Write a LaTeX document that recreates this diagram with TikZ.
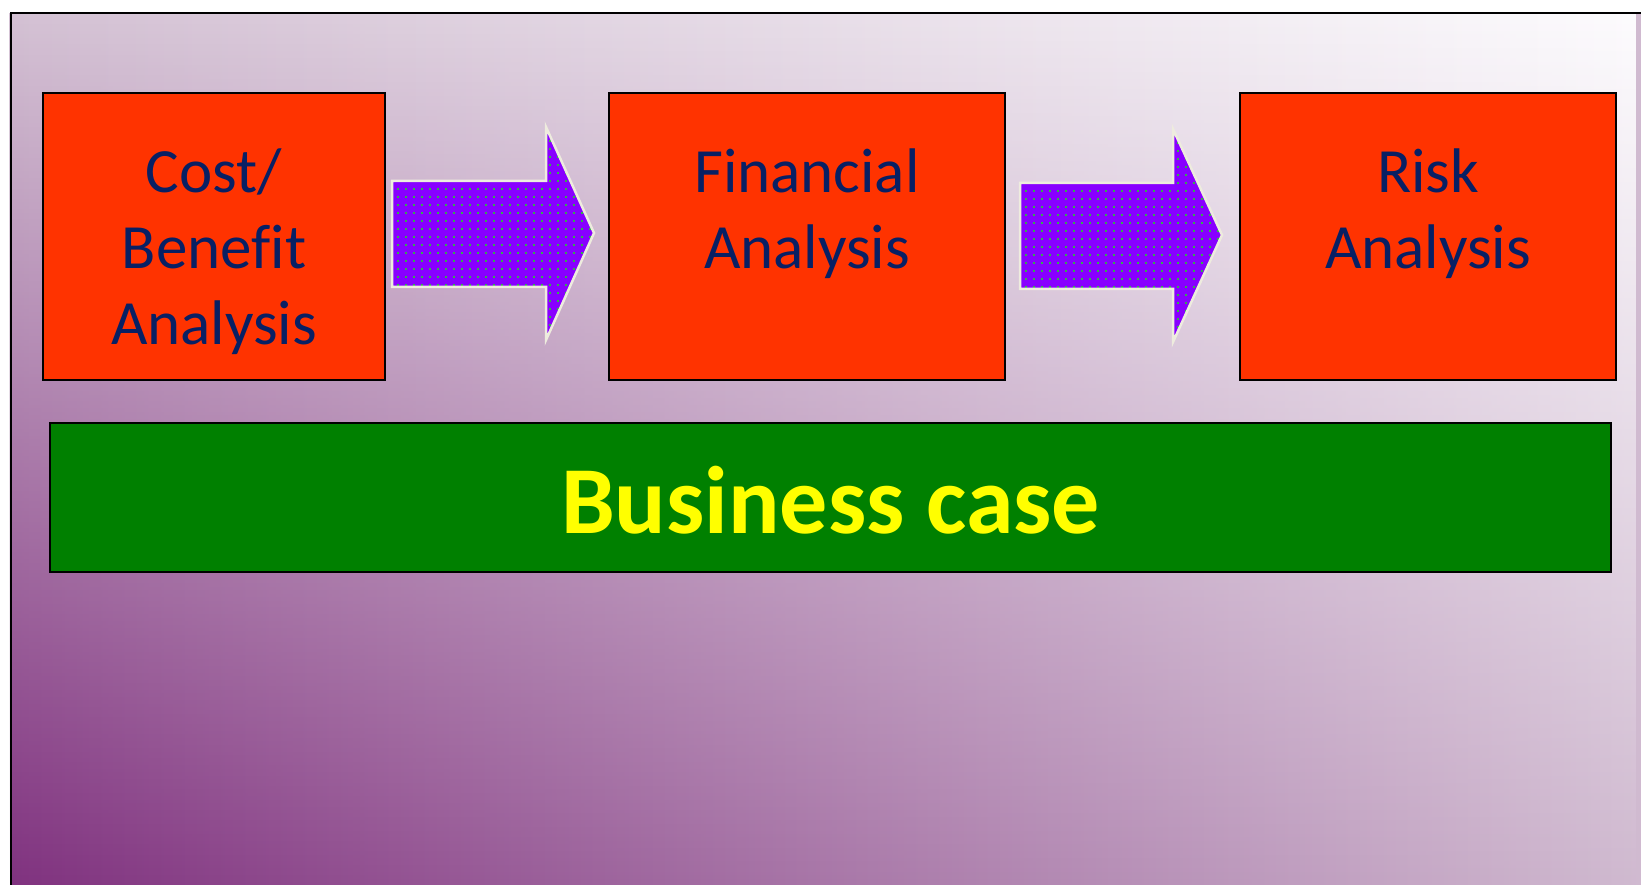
\documentclass[tikz,border=0pt]{standalone}
\usepackage{fontspec}
\setmainfont{Carlito}[Ligatures=NoCommon]
\usetikzlibrary{calc,fadings}
\definecolor{boxred}{RGB}{255,51,0}
\definecolor{navytxt}{RGB}{8,32,100}
\definecolor{bizgreen}{RGB}{0,128,0}
\definecolor{bizyellow}{RGB}{255,255,0}
\definecolor{arrowviolet}{RGB}{136,0,255}
\definecolor{dotgreen}{RGB}{50,175,75}
\definecolor{cream}{RGB}{238,236,222}
\definecolor{bgTL}{RGB}{212,194,212}
\definecolor{bgTR}{RGB}{253,252,254}
\definecolor{bgBL}{RGB}{128,50,127}
\definecolor{bgBR}{RGB}{208,186,208}
\newcommand\blockshape[3]{(#1) -- ++(0,-52) -- ++(#2,0) -- ++(0,-54) -- ++(#3,106)
  -- ++(-#3,107) -- ++(0,-53) -- ++(-#2,0) -- cycle}
\begin{document}
\begin{tikzpicture}[x=1pt,y=-1pt,
  stage/.style={draw=black, line width=2.5pt, fill=boxred, minimum width=#1,
    minimum height=287pt, inner sep=0pt, outer sep=0pt},
  lbl/.style={anchor=north, align=center, inner sep=0pt, text=navytxt,
    font=\fontsize{63}{76}\selectfont},
  bcase/.style={draw=black, line width=2.5pt, fill=bizgreen, minimum width=1561pt,
    minimum height=149pt, inner sep=0pt, outer sep=0pt, text=bizyellow,
    font=\fontsize{96}{115}\selectfont\bfseries, text height=71pt, text depth=0pt},
  arrowbody/.style={fill=arrowviolet},
  arrowdot/.style={fill=dotgreen},
  arrowline/.style={draw=cream, line width=2.5pt, line join=miter},
  frameline/.style={draw=black, line width=2pt}]
\useasboundingbox (0,0) rectangle (1641,885);
% background
\fill[white] (0,0) rectangle (1641,885);
\shade[left color=bgBL, right color=bgBR] (11,13) rectangle (1641,885);
\shade[left color=bgTL, right color=bgTR, path fading=south] (11,13) rectangle (1641,885);
\draw[frameline] (11,885) -- (11,13) -- (1641,13);
% stages
\node[stage=342pt] (b1) at (214,236.5) {};
\node[stage=396pt] (b2) at (807,236.5) {};
\node[stage=376pt] (b3) at (1428,236.5) {};
\node[lbl] (l1) at (214,142.5) {\rule{0pt}{50pt}Cost/\\Benefit\\Analysis};
\node[lbl] (l2) at (807,142) {\rule{0pt}{50pt}Financial\\Analysis};
\node[lbl] (l3) at (1428,142) {\rule{0pt}{50pt}Risk\\Analysis};
% block arrows
\coordinate (a1) at ($(b1.east)+(7,-3.5)$);
\coordinate (a2) at ($(b2.east)+(15,-1.5)$);
\foreach \s/\w/\h in {a1/154/48, a2/153/49}{
  \path[arrowbody] \blockshape{\s}{\w}{\h};
  \begin{scope}
    \clip \blockshape{\s}{\w}{\h};
    \foreach \i in {0,...,25}{
      \foreach \j in {0,...,27}{
        \path[arrowdot] ($(\s)+(5+8*\i,-109+8*\j)$) rectangle ++(2.2,2.2);
      }
    }
  \end{scope}
  \path[arrowline] \blockshape{\s}{\w}{\h};
}
% business case
\node[bcase] (bc) at (830.5,497.5) {Business case};
\end{tikzpicture}
\end{document}
